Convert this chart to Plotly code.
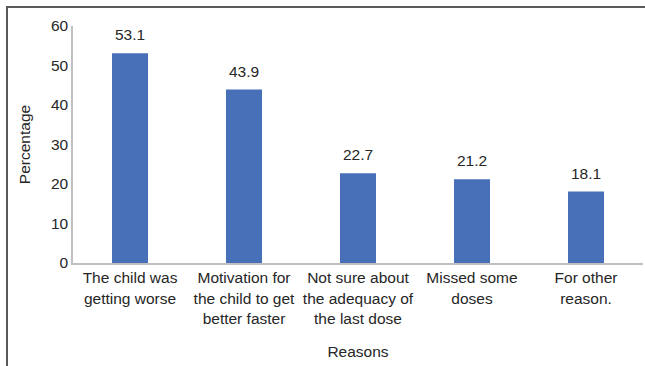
import plotly.graph_objects as go

categories = [
    "The child was<br>getting worse",
    "Motivation for<br>the child to get<br>better faster",
    "Not sure about<br>the adequacy of<br>the last dose",
    "Missed some<br>doses",
    "For other<br>reason.",
]
values = [53.1, 43.9, 22.7, 21.2, 18.1]
y_ticks = [0, 10, 20, 30, 40, 50, 60]

W, H = 645, 366
L, R, T, B = 73, 2, 26, 103
pw, ph = W - L - R, H - T - B
TXT = "#262626"

fig = go.Figure(go.Bar(
    x=categories, y=values,
    marker=dict(color="#4770B9", line=dict(width=0)),
    cliponaxis=False,
))

for c, v in zip(categories, values):
    fig.add_annotation(x=c, y=v, text=f"{v:.1f}", showarrow=False,
                       yanchor="bottom", yshift=8,
                       font=dict(size=15.5, color=TXT))

fig.update_layout(
    width=W, height=H,
    margin=dict(l=L, r=R, t=T, b=B),
    paper_bgcolor="white", plot_bgcolor="white",
    font=dict(family="Liberation Sans, Arial, sans-serif", size=15.5, color=TXT),
    bargap=0.684,
    showlegend=False,
    xaxis=dict(
        showline=True, linecolor="#BFBFBF", linewidth=1.5,
        ticks="", showgrid=False, tickfont=dict(size=15.5),
        title=dict(text="Reasons", font=dict(size=15.5), standoff=20),
    ),
    yaxis=dict(
        range=[0, 60], tickvals=y_ticks, showline=True, linecolor="#BFBFBF",
        linewidth=1.5, ticks="", showgrid=False, zeroline=False,
        tickfont=dict(size=15.5),
        title=dict(text="Percentage", font=dict(size=15.5), standoff=16),
    ),
    shapes=[dict(
        type="rect", xref="paper", yref="paper",
        x0=(7 - L) / pw, x1=1.2,
        y0=-1.0, y1=(H - B - 7) / ph,
        line=dict(color="#5a5a5a", width=2), layer="above",
    )],
)

fig.write_html("out.html")
